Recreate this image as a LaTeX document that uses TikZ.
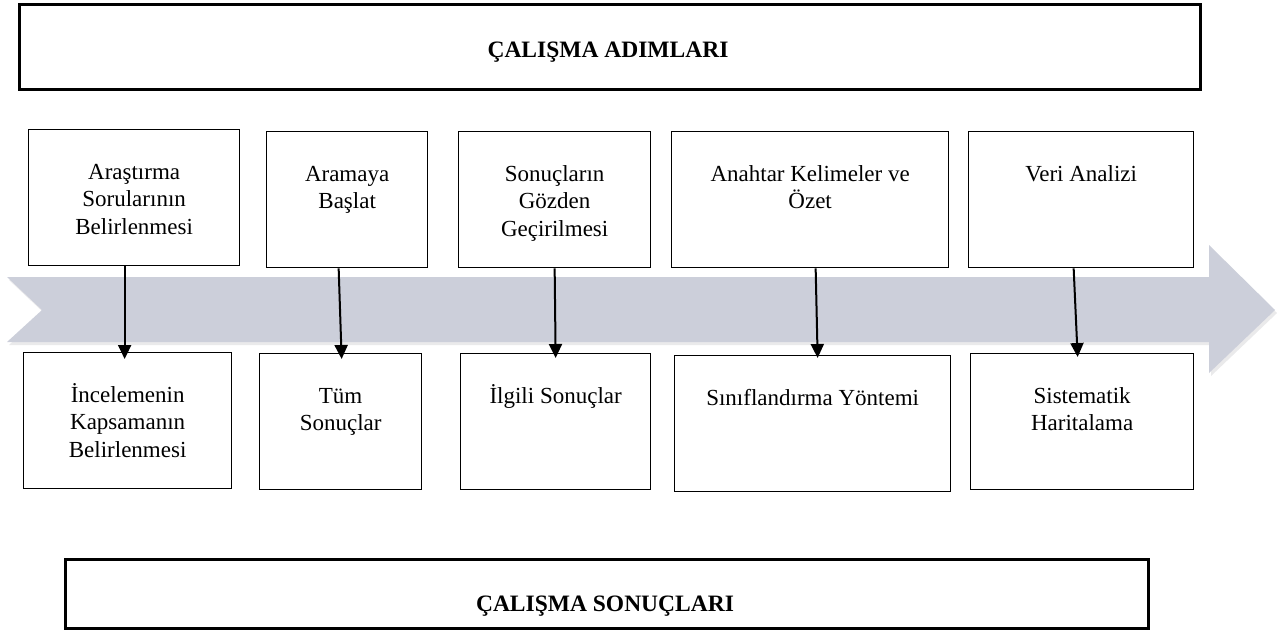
\documentclass[tikz,border=0pt]{standalone}
\usepackage{fontspec}
\setmainfont{Liberation Serif}[BoldFont={Liberation Serif Bold}]
\usetikzlibrary{arrows.meta}
\definecolor{band}{RGB}{204,207,218}
\definecolor{bandshadow}{RGB}{170,170,175}
\begin{document}
\begin{tikzpicture}[x=1pt,y=-1pt,
  box/.style={draw=black,line width=1.3pt,anchor=north west,inner sep=0pt},
  bigbox/.style={draw=black,line width=3pt,anchor=north west,inner sep=0pt},
  lbl/.style={anchor=north,align=center,inner sep=0pt,font=\fontsize{23}{27.5}\selectfont},
  ttl/.style={anchor=base,inner sep=0pt,font=\fontsize{23.5}{27}\selectfont\bfseries},
  arr/.style={line width=2pt,-{Triangle[length=14pt,width=13pt]}}]
\useasboundingbox (0,0) rectangle (1285,630);
% band arrow
\fill[bandshadow,opacity=0.25] (9,280) -- (1211,280) -- (1211,248) -- (1277,313) -- (1211,376) -- (1211,345) -- (9,345) -- (44,313) -- cycle;
\fill[band] (7,277) -- (1209,277) -- (1209,245) -- (1275,310) -- (1209,373) -- (1209,342) -- (7,342) -- (42,310) -- cycle;
% title boxes
\node[bigbox,minimum width=1181pt,minimum height=85pt] (top) at (18,3) {};
\node[ttl] (toptxt) at (608,57) {ÇALIŞMA ADIMLARI};
\node[bigbox,minimum width=1083pt,minimum height=69pt] (bot) at (64,558) {};
\node[ttl] (bottxt) at (605,611) {ÇALIŞMA SONUÇLARI};
% upper boxes
\node[box,minimum width=211pt,minimum height=136pt] (u1) at (28,129) {};
\node[box,minimum width=161pt,minimum height=136pt] (u2) at (266,131) {};
\node[box,minimum width=192pt,minimum height=136pt] (u3) at (458,131) {};
\node[box,minimum width=277pt,minimum height=136pt] (u4) at (671,131) {};
\node[box,minimum width=225pt,minimum height=136pt] (u5) at (968,131) {};
% lower boxes
\node[box,minimum width=208pt,minimum height=136pt] (l1) at (23,352) {};
\node[box,minimum width=162pt,minimum height=136pt] (l2) at (259,353) {};
\node[box,minimum width=190pt,minimum height=136pt] (l3) at (460,353) {};
\node[box,minimum width=276pt,minimum height=136pt] (l4) at (674,355) {};
\node[box,minimum width=223pt,minimum height=136pt] (l5) at (970,353) {};
% labels
\node[lbl] (t1) at ([yshift=-31pt]u1.north) {\strut Araştırma\\Sorularının\\Belirlenmesi};
\node[lbl] (t2) at ([yshift=-31pt]u2.north) {\strut Aramaya\\Başlat};
\node[lbl] (t3) at ([yshift=-31pt]u3.north) {\strut Sonuçların\\Gözden\\Geçirilmesi};
\node[lbl] (t4) at ([yshift=-31pt]u4.north) {\strut Anahtar Kelimeler ve\\Özet};
\node[lbl] (t5) at ([yshift=-31pt]u5.north) {\strut Veri Analizi};
\node[lbl] (s1) at ([yshift=-31pt]l1.north) {\strut İncelemenin\\Kapsamanın\\Belirlenmesi};
\node[lbl] (s2) at ([yshift=-31pt]l2.north) {\strut Tüm\\Sonuçlar};
\node[lbl] (s3) at ([yshift=-31pt]l3.north) {\strut İlgili Sonuçlar};
\node[lbl] (s4) at ([yshift=-31pt]l4.north) {\strut Sınıflandırma Yöntemi};
\node[lbl] (s5) at ([yshift=-31pt]l5.north) {\strut Sistematik\\Haritalama};
% connectors
\draw[arr] ([xshift=-9.5pt]u1.south) -- ([xshift=-3pt,yshift=-7pt]l1.north);
\draw[arr] ([xshift=-8.5pt]u2.south) -- ([xshift=1pt,yshift=-6pt]l2.north);
\draw[arr] ([xshift=0pt]u3.south) -- ([xshift=0pt,yshift=-5pt]l3.north);
\draw[arr] ([xshift=5.5pt]u4.south) -- ([xshift=5pt,yshift=-3pt]l4.north);
\draw[arr] ([xshift=-7.5pt]u5.south) -- ([xshift=-4.5pt,yshift=-4pt]l5.north);
\end{tikzpicture}
\end{document}
